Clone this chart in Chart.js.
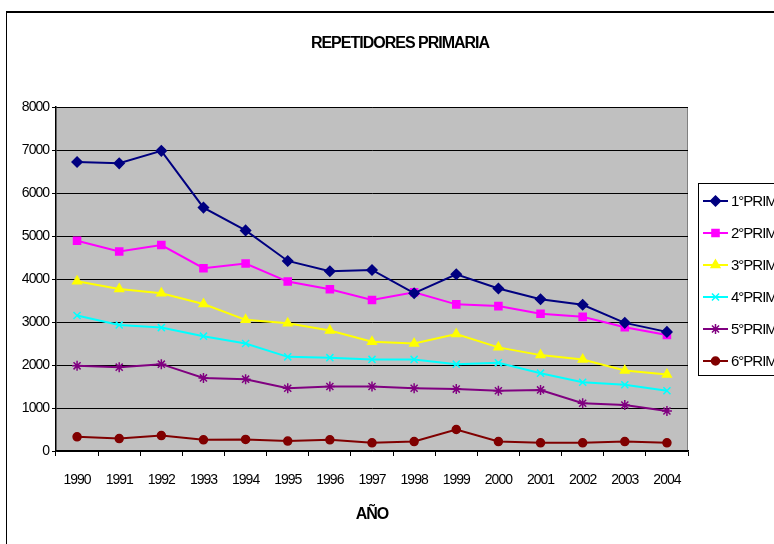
<!DOCTYPE html>
<html>
<head>
<meta charset="utf-8">
<script src="https://cdn.jsdelivr.net/npm/chart.js@4/dist/chart.umd.min.js"></script>
<style>
    html, body {margin: 0; padding: 0; overflow: hidden; background: #fff; width: 774px; height: 544px;}
    #frame {position: absolute; left: 6px; top: 11px; width: 1000px; height: 1000px;
        border-top: 2px solid #000; border-left: 1px solid #000;}
    #wrap {position: absolute; left: 0; top: 0; width: 900px; height: 544px;}
</style>
</head>
<body>
<div id="frame"></div>
<div id="wrap"><canvas id="chart" width="900" height="544"></canvas></div>
<script>
const FONT = "'Liberation Sans Narrow', 'Arial Narrow', 'Liberation Sans', Arial, sans-serif";

const years = ["1990", "1991", "1992", "1993", "1994", "1995", "1996", "1997", "1998", "1999", "2000", "2001", "2002", "2003", "2004"];
const prim1 = [6720, 6690, 6980, 5660, 5130, 4420, 4180, 4210, 3670, 4110, 3780, 3530, 3400, 2980, 2770];
const prim2 = [4890, 4640, 4790, 4250, 4360, 3940, 3760, 3510, 3690, 3410, 3370, 3190, 3120, 2880, 2700];
const prim3 = [3950, 3770, 3670, 3420, 3050, 2970, 2800, 2540, 2500, 2720, 2410, 2230, 2130, 1870, 1780];
const prim4 = [3150, 2930, 2870, 2670, 2500, 2190, 2170, 2130, 2130, 2020, 2050, 1810, 1600, 1540, 1400];
const prim5 = [1980, 1950, 2020, 1700, 1670, 1460, 1500, 1500, 1460, 1440, 1400, 1420, 1110, 1070, 930];
const prim6 = [330, 290, 360, 260, 270, 230, 260, 190, 220, 500, 220, 190, 190, 220, 190];

const seriesNames = ["1° PRIMARIA", "2° PRIMARIA", "3° PRIMARIA", "4° PRIMARIA", "5° PRIMARIA", "6° PRIMARIA"];
const seriesData = [prim1, prim2, prim3, prim4, prim5, prim6];
const seriesColors = ["#000080", "#FF00FF", "#FFFF00", "#00FFFF", "#800080", "#800000"];
const seriesMarkers = ["rectRot", "rect", "triangle", "crossRot", "star", "circle"];
const markerSizes = [5, 5, 5, 5, 5, 4];

// squeeze all text a bit, the original uses a narrow font
let narrowText = {
    id: "narrowText",
    beforeDraw: (chart) => {
        chart.ctx.letterSpacing = "-1px";
    }
}

let plotBackground = {
    id: "plotBackground",
    beforeDraw: (chart) => {
        const {ctx, chartArea: {left, top, width, height}} = chart;
        ctx.save();
        ctx.fillStyle = "#C0C0C0";
        ctx.fillRect(left, top, width, height);
        ctx.strokeStyle = "#808080";
        ctx.lineWidth = 1;
        ctx.beginPath();
        ctx.moveTo(left, top + 0.5);
        ctx.lineTo(left + width - 0.5, top + 0.5);
        ctx.lineTo(left + width - 0.5, top + height);
        ctx.stroke();
        ctx.restore();
    }
}

let titleAndLegend = {
    id: "titleAndLegend",
    afterDraw: (chart) => {
        const {ctx} = chart;
        ctx.save();
        ctx.fillStyle = "#000";
        ctx.font = "bold 16px " + FONT;
        ctx.textAlign = "center";
        ctx.textBaseline = "middle";
        ctx.fillText("REPETIDORES PRIMARIA", 400, 44);

        ctx.fillStyle = "#fff";
        ctx.fillRect(698.5, 183.5, 200, 192);
        ctx.strokeStyle = "#000";
        ctx.lineWidth = 1;
        ctx.strokeRect(698.5, 183.5, 200, 192);
        ctx.font = "15px " + FONT;
        ctx.textAlign = "left";
        chart.data.datasets.forEach((ds, i) => {
            const y = 201 + i * 32;
            ctx.strokeStyle = ds.borderColor;
            ctx.lineWidth = 2;
            ctx.beginPath();
            ctx.moveTo(703, y);
            ctx.lineTo(728, y);
            ctx.stroke();
            ctx.fillStyle = ds.backgroundColor;
            ctx.strokeStyle = ds.borderColor;
            ctx.lineWidth = 1.5;
            Chart.helpers.drawPoint(ctx, {pointStyle: ds.pointStyle, radius: ds.pointRadius, borderWidth: 1.5}, 715.5, y);
            ctx.fillStyle = "#000";
            ctx.fillText(ds.label.replace("° ", "°"), 731, y + 1);
        });
        ctx.restore();
    }
}

const datasets = seriesData.map((arr, i) => ({
    label: seriesNames[i],
    data: arr,
    borderColor: seriesColors[i],
    backgroundColor: seriesColors[i],
    borderWidth: 2,
    pointStyle: seriesMarkers[i],
    pointRadius: markerSizes[i],
    pointBorderWidth: 1.5,
    tension: 0
}));

new Chart(document.getElementById("chart"), {
    type: "line",
    data: {labels: years, datasets: datasets},
    plugins: [narrowText, plotBackground, titleAndLegend],
    options: {
        responsive: false,
        animation: false,
        layout: {padding: {top: 107, right: 212, left: 0, bottom: 0}},
        plugins: {
            legend: {display: false},
            tooltip: {enabled: false},
            title: {display: false}
        },
        scales: {
            x: {
                offset: true,
                grid: {display: true, drawOnChartArea: false, offset: true, tickLength: 5, color: "#000"},
                border: {color: "#000", width: 1.5},
                ticks: {color: "#000", font: {family: FONT, size: 14}, padding: 16, maxRotation: 0, autoSkip: false},
                title: {display: true, text: "AÑO", color: "#000", font: {family: FONT, size: 16, weight: "bold"}, padding: {top: 12, bottom: 20}},
                afterFit: (scale) => { scale.height = 93; }
            },
            y: {
                min: 0,
                max: 8000,
                grid: {color: "#000", tickLength: 4, lineWidth: 1},
                border: {color: "#000", width: 1.5},
                ticks: {
                    stepSize: 1000, color: "#000", font: {family: FONT, size: 14}, padding: 3,
                    callback: function (value) {
                        return String(value);
                    }
                },
                afterFit: (scale) => { scale.width = 56; }
            }
        }
    }
});
</script>
</body>
</html>
